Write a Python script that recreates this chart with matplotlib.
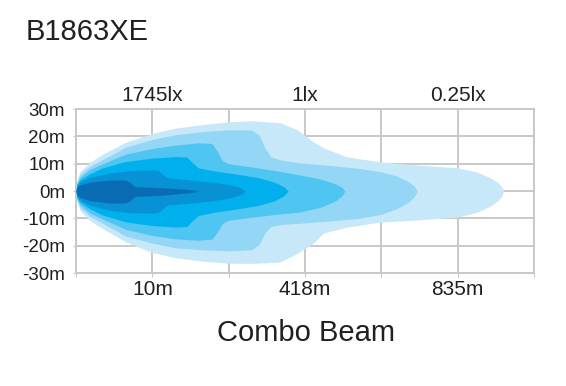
import numpy as np
import matplotlib
matplotlib.use("Agg")
import matplotlib.pyplot as plt

plt.rcParams['font.family'] = ['Liberation Sans', 'DejaVu Sans']

# beam outlines: x in grid columns, y in metres (top / bottom edge)
x_025 = [0, 0.01, 0.05, 0.18, 0.35, 0.65, 0.99, 1.3, 1.66, 2.0, 2.3, 2.67, 2.9, 3.11, 3.24, 3.55, 3.98, 4.42, 4.99, 5.25, 5.43, 5.53, 5.58, 5.6]
top_025 = [0, 3.5, 7.0, 10.5, 13.5, 17.8, 21.0, 23.0, 24.3, 25.3, 25.7, 25.0, 22.4, 18.0, 15.8, 12.5, 10.7, 9.6, 8.5, 7.0, 4.8, 3.0, 1.5, 0]
bot_025 = [0, -3.5, -7.0, -10.8, -13.8, -18.6, -22.4, -24.4, -25.7, -26.4, -26.5, -26.0, -22.8, -19.1, -15.4, -13.2, -11.4, -10.7, -9.6, -7.8, -5.5, -3.5, -1.8, 0]

x_1 = [0, 0.01, 0.05, 0.18, 0.35, 0.65, 0.99, 1.3, 1.66, 2.0, 2.3, 2.4, 2.47, 2.55, 2.7, 2.93, 3.3, 3.7, 4.0, 4.2, 4.35, 4.43, 4.47]
top_1 = [0, 3.0, 6.0, 9.0, 11.5, 16.0, 18.8, 20.6, 21.7, 22.4, 22.3, 20.5, 16.0, 12.5, 11.2, 10.3, 9.4, 8.3, 7.0, 5.5, 3.5, 1.8, 0]
bot_1 = [0, -3.0, -6.0, -9.2, -11.8, -16.5, -19.0, -20.8, -21.5, -21.9, -21.5, -19.5, -15.5, -13.0, -12.2, -11.8, -11.0, -10.0, -8.5, -6.5, -4.2, -2.2, 0]

x_3 = [0, 0.01, 0.05, 0.18, 0.35, 0.65, 0.99, 1.3, 1.6, 1.78, 1.85, 1.92, 2.0, 2.3, 2.6, 2.93, 3.2, 3.4, 3.49, 3.52]
top_3 = [0, 2.6, 5.0, 7.8, 10.0, 13.5, 15.5, 16.8, 17.6, 17.4, 14.5, 11.0, 10.0, 8.8, 7.5, 5.9, 4.4, 2.6, 1.2, 0]
bot_3 = [0, -2.6, -5.0, -8.0, -10.3, -14.0, -16.2, -17.5, -18.0, -17.6, -15.0, -11.8, -10.7, -9.6, -8.6, -7.7, -6.0, -3.6, -1.6, 0]

x_4 = [0, 0.01, 0.05, 0.18, 0.35, 0.65, 0.99, 1.3, 1.45, 1.52, 1.6, 1.8, 2.1, 2.4, 2.6, 2.72, 2.78]
top_4 = [0, 2.2, 4.0, 6.3, 8.5, 10.8, 12.0, 12.6, 12.4, 10.5, 8.5, 7.4, 6.2, 4.8, 3.2, 1.6, 0]
bot_4 = [0, -2.2, -4.0, -6.5, -8.8, -11.3, -12.6, -13.2, -13.0, -11.0, -9.0, -7.8, -6.6, -5.2, -3.6, -1.8, 0]

x_5 = [0, 0.01, 0.05, 0.18, 0.44, 0.71, 1.0, 1.08, 1.14, 1.2, 1.5, 1.8, 2.0, 2.13, 2.19, 2.21]
top_5 = [0, 1.8, 3.2, 5.0, 6.6, 7.5, 7.7, 7.5, 6.0, 4.8, 4.0, 3.2, 2.4, 1.4, 0.7, 0]
bot_5 = [0, -1.8, -3.2, -5.2, -7.0, -8.0, -8.1, -7.8, -6.4, -5.1, -4.4, -3.5, -2.6, -1.5, -0.8, 0]

x_6 = [0, 0.01, 0.05, 0.18, 0.44, 0.65, 0.72, 0.77, 1.1, 1.42, 1.55, 1.59]
top_6 = [0, 1.3, 2.2, 3.2, 4.0, 4.0, 2.9, 1.6, 1.2, 0.7, 0.3, 0]
bot_6 = [0, -1.3, -2.3, -3.5, -4.4, -4.4, -3.3, -2.0, -1.6, -0.8, -0.4, 0]

colors = ['#c7e8f8', '#93d6f5', '#4fc5f1', '#00b0ec', '#0891d4', '#0a6cb4']

y_ticks = [30, 20, 10, 0, -10, -20, -30]
y_labels = ['30m', '20m', '10m', '0m', '-10m', '-20m', '-30m']
dist_pos = [1, 3, 5]
dist_labels = ['10m', '418m', '835m']
lux_labels = ['1745lx', '1lx', '0.25lx']

txt = '#231f20'
grid_c = '#c8c8c8'

fig = plt.figure(figsize=(5.66, 3.86), dpi=100)
ax = fig.add_axes([76 / 566, 113 / 386, 458 / 566, 164 / 386])

layers = [(x_025, top_025, bot_025), (x_1, top_1, bot_1), (x_3, top_3, bot_3),
          (x_4, top_4, bot_4), (x_5, top_5, bot_5), (x_6, top_6, bot_6)]
for (xs, ts, bs), c in zip(layers, colors):
    ax.fill_between(xs, bs, ts, color=c, lw=0, zorder=2)

ax.set_xlim(0, 6)
ax.set_ylim(-30, 30)
ax.set_xticks(range(7))
xl = [''] * 7
for p, lab in zip(dist_pos, dist_labels):
    xl[p] = lab
ax.set_xticklabels(xl)
ax.set_yticks(y_ticks)
ax.set_yticklabels(y_labels)
ax.grid(True, color=grid_c, lw=1.4, zorder=0)
ax.set_axisbelow(True)
for s in ax.spines.values():
    s.set_color(grid_c)
    s.set_linewidth(1.4)
    s.set_zorder(1)
ax.tick_params(axis='x', length=3, color=grid_c, labelsize=15, labelcolor=txt, pad=2)
ax.tick_params(axis='y', length=2, color=grid_c, labelsize=13.5, labelcolor=txt, pad=6)

for p, lab in zip(dist_pos, lux_labels):
    ax.text(p, 1.025, lab, transform=ax.get_xaxis_transform(), ha='center', va='bottom',
            fontsize=15, color=txt)

fig.text(26 / 566, 1 - 32 / 386, 'B1863XE', fontsize=21, color=txt, ha='left', va='center')
fig.text(306 / 566, 1 - 333 / 386, 'Combo Beam', fontsize=21, color=txt, ha='center', va='center')

fig.savefig('out.png', dpi=100)
